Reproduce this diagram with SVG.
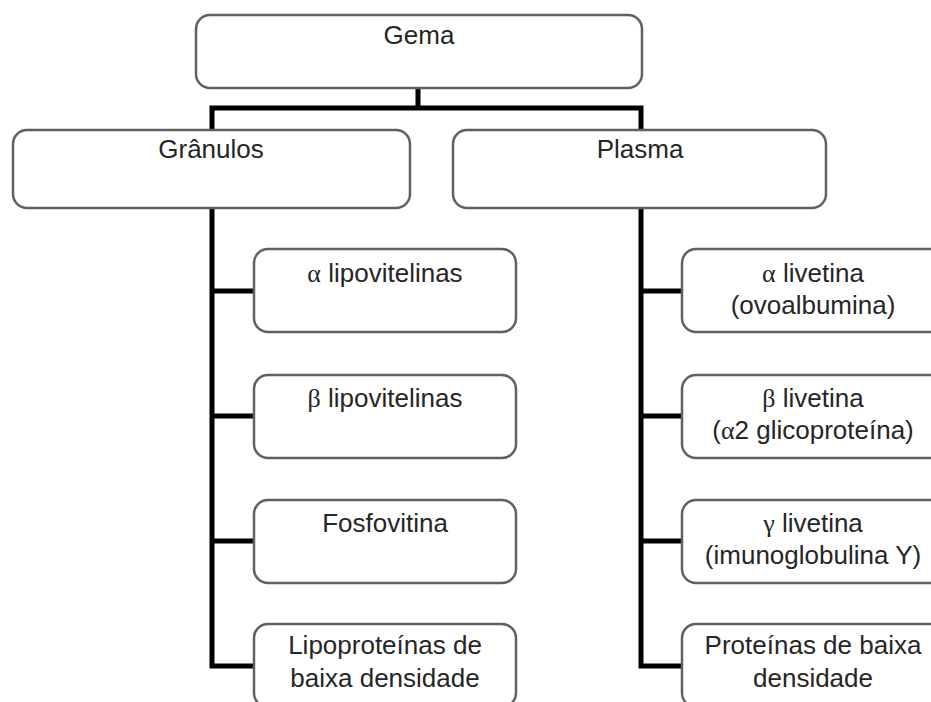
<svg xmlns="http://www.w3.org/2000/svg" width="931" height="702" viewBox="0 0 931 702">
<style>
.box{fill:#fff;stroke:#606060;stroke-width:2.5}
.t{font-family:"Liberation Sans",Arial,sans-serif;font-size:26px;fill:#262626;text-anchor:middle}
.g{font-family:"Liberation Serif","Times New Roman",serif}
.c{fill:none;stroke:#000;stroke-width:5;stroke-linejoin:miter;stroke-linecap:square}
</style>
<rect width="931" height="702" fill="#fff"/>
<g id="connectors">
<path class="c" d="M418,89 V108 M212,130 V108 H641 V130"/>
<path class="c" d="M212,209 V666 H254 M212,291 H254 M212,416 H254 M212,541 H254"/>
<path class="c" d="M641,209 V666 H682 M641,291 H682 M641,416 H682 M641,541 H682"/>
</g>
<g id="gema"><rect class="box" x="196" y="15" width="446" height="73" rx="14"/><text class="t" x="419" y="44">Gema</text></g>
<g id="granulos"><rect class="box" x="13" y="130" width="397" height="78" rx="14"/><text class="t" x="211" y="158">Grânulos</text></g>
<g id="plasma"><rect class="box" x="453" y="130" width="373" height="78" rx="14"/><text class="t" x="640" y="158">Plasma</text></g>
<g id="alfa-lipovitelinas"><rect class="box" x="254" y="249" width="262" height="83" rx="14"/><text class="t" x="385" y="282"><tspan class="g">α</tspan> lipovitelinas</text></g>
<g id="beta-lipovitelinas"><rect class="box" x="254" y="375" width="262" height="83" rx="14"/><text class="t" x="385" y="407"><tspan class="g">β</tspan> lipovitelinas</text></g>
<g id="fosfovitina"><rect class="box" x="254" y="500" width="262" height="83" rx="14"/><text class="t" x="385" y="532">Fosfovitina</text></g>
<g id="lipoproteinas"><rect class="box" x="254" y="624" width="262" height="83" rx="14"/><text class="t" x="385" y="654">Lipoproteínas de</text><text class="t" x="385" y="687">baixa densidade</text></g>
<g id="alfa-livetina"><rect class="box" x="682" y="249" width="262" height="83" rx="14"/><text class="t" x="813" y="282"><tspan class="g">α</tspan> livetina</text><text class="t" x="813" y="314">(ovoalbumina)</text></g>
<g id="beta-livetina"><rect class="box" x="682" y="375" width="262" height="83" rx="14"/><text class="t" x="813" y="407"><tspan class="g">β</tspan> livetina</text><text class="t" x="813" y="439">(<tspan class="g">α</tspan>2 glicoproteína)</text></g>
<g id="gama-livetina"><rect class="box" x="682" y="500" width="262" height="83" rx="14"/><text class="t" x="813" y="532"><tspan class="g">γ</tspan> livetina</text><text class="t" x="813" y="564">(imunoglobulina Y)</text></g>
<g id="proteinas"><rect class="box" x="682" y="624" width="262" height="83" rx="14"/><text class="t" x="813" y="654">Proteínas de baixa</text><text class="t" x="813" y="687">densidade</text></g>
</svg>
